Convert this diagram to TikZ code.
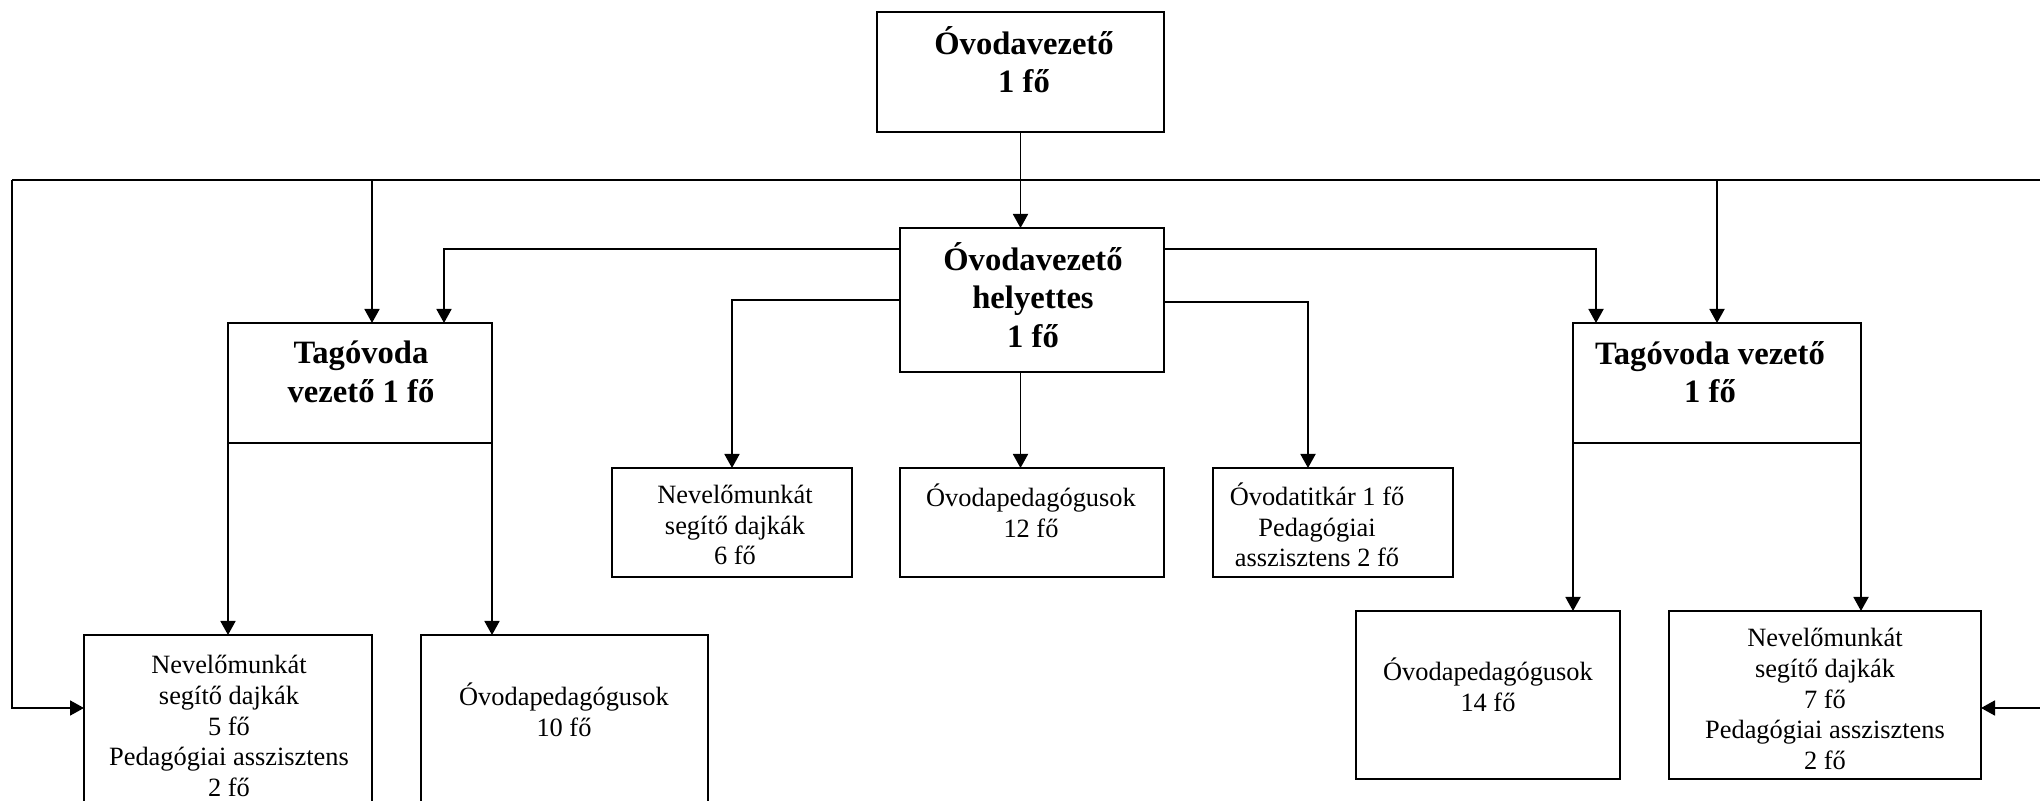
\documentclass[tikz,border=0pt]{standalone}
\usepackage{fontspec}
\setmainfont{Liberation Serif}
\usetikzlibrary{arrows.meta,calc}
\begin{document}
\begin{tikzpicture}[x=0.5pt,y=-0.5pt,
  box/.style={draw,line width=0.95pt,inner sep=0pt,outer sep=0pt},
  conn/.style={line width=0.9pt},
  arr/.style={conn,-{Triangle[length=7pt,width=7.5pt]}},
  nt/.style={align=center,inner sep=0pt,font=\fontsize{13.2}{15.3}\selectfont},
  bt/.style={align=center,inner sep=0pt,font=\fontsize{16.3}{19.3}\selectfont\bfseries},
]
\useasboundingbox (0,0) rectangle (2040,801);
\clip (0,0) rectangle (2040,801);

% boxes
\node[box,minimum width=143.5pt,minimum height=60pt] (top) at (1020.5,72) {};
\node[box,minimum width=132pt,minimum height=72pt] (hely) at (1032,300) {};
\node[box,minimum width=132pt,minimum height=60pt] (tagL) at (360,383) {};
\node[box,minimum width=144pt,minimum height=60pt] (tagR) at (1717,383) {};
\node[box,minimum width=120pt,minimum height=54.5pt] (n6) at (732,522.5) {};
\node[box,minimum width=132pt,minimum height=54.5pt] (p12) at (1032,522.5) {};
\node[box,minimum width=120pt,minimum height=54.5pt] (tit) at (1333,522.5) {};
\node[box,minimum width=144pt,minimum height=92.5pt] (n5) at (228,727.5) {};
\node[box,minimum width=143.5pt,minimum height=92.5pt] (p10) at (564.5,727.5) {};
\node[box,minimum width=132pt,minimum height=84pt] (p14) at (1488,695) {};
\node[box,minimum width=156pt,minimum height=84pt] (n7) at (1825,695) {};

% texts
\node[bt] (topT) at (1024,59.5) {Óvodavezető\\1 fő};
\node[bt] (helyT) at (1033,295) {Óvodavezető\\helyettes\\1 fő};
\node[bt] (tagLT) at (361,372) {Tagóvoda\\vezető 1 fő};
\node[bt] (tagRT) at (1710,372) {Tagóvoda vezető\\1 fő};
\node[nt] (n6T) at (735,525) {Nevelőmunkát\\segítő dajkák\\6 fő};
\node[nt] (p12T) at (1031,511) {Óvodapedagógusok\\12 fő};
\node[nt] (titT) at (1317,525) {Óvodatitkár 1 fő\\Pedagógiai\\asszisztens 2 fő};
\node[nt] (n5T) at (229,726) {Nevelőmunkát\\segítő dajkák\\5 fő\\Pedagógiai asszisztens\\2 fő};
\node[nt] (p10T) at (564,710) {Óvodapedagógusok\\10 fő};
\node[nt] (p14T) at (1488,685) {Óvodapedagógusok\\14 fő};
\node[nt] (n7T) at (1825,699) {Nevelőmunkát\\segítő dajkák\\7 fő\\Pedagógiai asszisztens\\2 fő};

% connectors
\coordinate (busL) at (12,180);
\coordinate (busR) at (2060,180);
\draw[conn] (busL) -- (busR);
\draw[arr] (top.south) -- (top.south |- hely.north);
\draw[arr] (busL) |- ($(n5.north west)+(0,73)$);
\draw[arr] (busR) |- ($(n7.north east)+(0,97)$);
\coordinate (tL1) at ($(tagL.north west)+(144,0)$);
\draw[arr] (tL1 |- busL) -- (tL1);
\draw[arr] (tagR.north |- busL) -- (tagR.north);
\coordinate (tL2) at ($(tagL.north east)+(-48,0)$);
\coordinate (h1) at ($(hely.north west)+(0,21)$);
\draw[arr] (h1) -| (tL2);
\coordinate (h2) at ($(hely.north west)+(0,72)$);
\draw[arr] (h2) -| (n6.north);
\coordinate (h3) at ($(hely.north east)+(0,21)$);
\coordinate (tR2) at ($(tagR.north west)+(23,0)$);
\draw[arr] (h3) -| (tR2);
\coordinate (h4) at ($(hely.north east)+(0,74)$);
\coordinate (t1) at ($(tit.north west)+(95,0)$);
\draw[arr] (h4) -| (t1);
\draw[arr] (top.south |- hely.south) -- (top.south |- p12.north);
\draw[arr] (tagL.south west) -- (tagL.south west |- n5.north);
\draw[arr] (tagL.south east) -- (tagL.south east |- p10.north);
\draw[arr] (tagR.south west) -- (tagR.south west |- p14.north);
\draw[arr] (tagR.south east) -- (tagR.south east |- n7.north);
\end{tikzpicture}
\end{document}
